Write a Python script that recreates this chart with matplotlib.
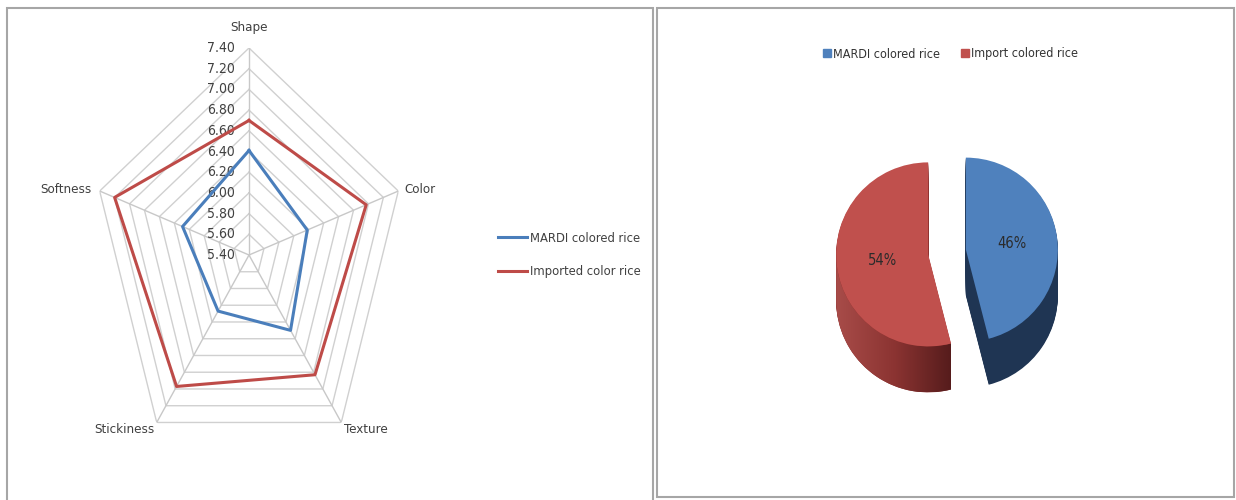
import numpy as np
import matplotlib
matplotlib.use("Agg")
from matplotlib import pyplot as plt
from matplotlib import transforms
from matplotlib.lines import Line2D
from matplotlib.patches import Rectangle, Polygon
from matplotlib.colors import LinearSegmentedColormap

plt.rcParams['font.family'] = ['DejaVu Sans']
plt.rcParams['font.stretch'] = 'condensed'

# radar data
categories = ['Shape', 'Color', 'Texture', 'Stickiness', 'Softness']
mardi = [6.41, 6.18, 6.30, 6.07, 6.29]
imported = [6.70, 6.97, 6.83, 6.97, 7.20]
levels = [5.40, 5.60, 5.80, 6.00, 6.20, 6.40, 6.60, 6.80, 7.00, 7.20, 7.40]

# pie data
pie_labels = ['MARDI colored rice', 'Import colored rice']
pie_values = [46, 54]

blue = '#4a7ebb'
red = '#be4b48'

fig = plt.figure(figsize=(12.36, 5.0), dpi=100)
W, H = 1236, 500

# panel borders
fig.patches.append(Rectangle((7 / W, -0.01), 646 / W, 1 - 8 / H + 0.01, transform=fig.transFigure,
                             fill=False, edgecolor='#a6a6a6', lw=1.5))
fig.patches.append(Rectangle((657 / W, 3 / H), 577 / W, 1 - 11 / H, transform=fig.transFigure,
                             fill=False, edgecolor='#a6a6a6', lw=1.5))

# ---------- radar ----------
ax = fig.add_axes([92 / W, 38 / H, 314 / W, 414 / H], projection='polar')
ax.set_aspect('auto')
ax.set_theta_zero_location('N')
ax.set_theta_direction(-1)
ax.set_ylim(levels[0], levels[-1])
ax.grid(False)
ax.spines['polar'].set_visible(False)
ax.set_xticks([])
ax.set_yticks([])

n = len(categories)
angles = np.linspace(0, 2 * np.pi, n, endpoint=False)
closed = np.append(angles, angles[0])

for lv in levels[1:]:
    ax.plot(closed, [lv] * (n + 1), color='#d0d0d0', lw=1, zorder=1)
for a in angles:
    ax.plot([a, a], [levels[0], levels[-1]], color='#c8c8c8', lw=1, zorder=1)

ax.plot(closed, mardi + mardi[:1], color=blue, lw=2.2, zorder=3)
ax.plot(closed, imported + imported[:1], color=red, lw=2.2, zorder=3)

lab_tr = transforms.offset_copy(ax.transData, fig=fig, x=-14, y=0, units='dots')
for lv in levels:
    ax.text(0, lv, '%.2f' % lv, transform=lab_tr, ha='right', va='center',
            fontsize=10, color='#404040', zorder=2, clip_on=False)

offsets = [(0, 21, 'center'), (6, 2, 'left'), (25, -7, 'center'), (-32, -7, 'center'), (-8, 2, 'right')]
for a, cat, (ox, oy, ha) in zip(angles, categories, offsets):
    tr = transforms.offset_copy(ax.transData, fig=fig, x=ox, y=oy, units='dots')
    ax.text(a, levels[-1], cat, transform=tr, ha=ha, va='center', fontsize=9.5,
            color='#404040', clip_on=False)

fig.legend(handles=[Line2D([], [], color=blue, lw=2.2), Line2D([], [], color=red, lw=2.2)],
           labels=['MARDI colored rice', 'Imported color rice'],
           loc='center left', bbox_to_anchor=(486 / W, 1 - 255 / H), frameon=False,
           fontsize=9.3, handlelength=2.3, handletextpad=0.2, labelspacing=1.6,
           labelcolor='#404040')

# ---------- 3D-looking pie ----------
pax = fig.add_axes([800 / W, 90 / H, 300 / W, 300 / H])
side_colors = ['#1f3553', '#8a2e2c']
top_colors = ['#4f81bd', '#c0504d']
explode = [19, 19]
depth = 46
for d in range(depth, 0, -1):
    pax.pie(pie_values, colors=side_colors, startangle=90, counterclock=False,
            explode=explode, radius=92, center=(-3, 8 - d),
            wedgeprops=dict(linewidth=0))
wedges, texts, autotexts = pax.pie(pie_values, colors=top_colors, startangle=90, counterclock=False,
                                   explode=explode, radius=92, center=(-3, 8),
                                   autopct='%d%%', pctdistance=0.5,
                                   wedgeprops=dict(linewidth=0, zorder=3),
                                   textprops=dict(fontsize=10.5, color='#2b2b2b', zorder=4))

# shading on the red side wall: light on the left, dark toward the cut
rw = wedges[1]
cx, cy = rw.center
t1, t2 = sorted([rw.theta1, rw.theta2])
lo = max(t1, -180.0) if t1 < 0 else t1 - 360
th = np.radians(np.linspace(max(t1, -180.0), min(t2, 0.0), 80))
top_arc = np.column_stack([cx + rw.r * np.cos(th), cy + rw.r * np.sin(th)])
bot_arc = top_arc[::-1] - [0, depth]
side_poly = Polygon(np.vstack([top_arc, bot_arc]), closed=True, transform=pax.transData)
shade = LinearSegmentedColormap.from_list('side', ['#a84c49', '#8c3432', '#561c1c'])
grad = np.linspace(0, 1, 256).reshape(1, -1)
x0, x1 = top_arc[:, 0].min(), top_arc[:, 0].max()
y0, y1 = bot_arc[:, 1].min(), top_arc[:, 1].max()
im = pax.imshow(grad, cmap=shade, extent=[x0, x1, y0, y1], aspect='auto', zorder=2)
im.set_clip_path(side_poly)

pax.set_aspect('auto')
pax.set_xlim(-150, 150)
pax.set_ylim(-150, 150)
pax.axis('off')

fig.legend(handles=[Line2D([], [], ls='none', marker='s', markersize=6, color=c) for c in top_colors],
           labels=pie_labels, loc='center', bbox_to_anchor=(950 / W, 1 - 54 / H), ncol=2,
           frameon=False, fontsize=9, handletextpad=0.1, columnspacing=1.6,
           handlelength=0.8, labelcolor='#333333')

fig.savefig('out.png', dpi=100, facecolor='white')
